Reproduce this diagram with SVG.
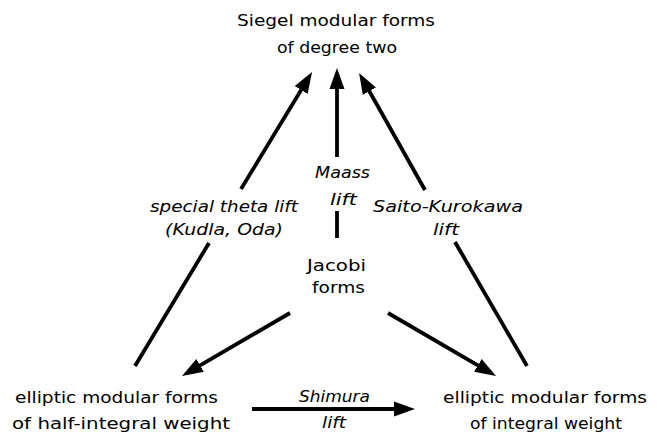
<svg xmlns="http://www.w3.org/2000/svg" width="657" height="435" viewBox="0 0 657 435">
<style>
text{font-family:"DejaVu Sans","Liberation Sans",sans-serif;font-size:15px;fill:#000}
.it{font-style:italic}
.ln{stroke:#000;stroke-width:3.8;fill:none}
</style>
<defs>
<marker id="ah" markerUnits="userSpaceOnUse" markerWidth="26" markerHeight="20" viewBox="0 -10 26 20" refX="2" refY="0" orient="auto">
<path d="M0,-7.5 L21,0 L0,7.5 Z" fill="#000"/>
</marker>
</defs>
<rect width="657" height="435" fill="#fff"/>
<g id="connectors">
<path class="ln" d="M135,366 L209,243"/>
<path class="ln" d="M241,189 L302.2,88.3" marker-end="url(#ah)"/>
<path class="ln" d="M337,238 L337,211"/>
<path class="ln" d="M337,157 L337,87" marker-end="url(#ah)"/>
<path class="ln" d="M527,366 L455,242"/>
<path class="ln" d="M425,190 L368.4,89.5" marker-end="url(#ah)"/>
<path class="ln" d="M290,313 L198.4,366.4" marker-end="url(#ah)"/>
<path class="ln" d="M388,313 L479.6,366.4" marker-end="url(#ah)"/>
<path class="ln" d="M252,409 L396,409" marker-end="url(#ah)"/>
</g>
<g id="siegel">
<text x="237" y="26" textLength="198" lengthAdjust="spacingAndGlyphs">Siegel modular forms</text>
<text x="277" y="53" textLength="120" lengthAdjust="spacingAndGlyphs">of degree two</text>
</g>
<g id="jacobi">
<text x="307" y="271" textLength="59" lengthAdjust="spacingAndGlyphs">Jacobi</text>
<text x="312" y="293" textLength="53" lengthAdjust="spacingAndGlyphs">forms</text>
</g>
<g id="half-integral">
<text x="15" y="403" textLength="203" lengthAdjust="spacingAndGlyphs">elliptic modular forms</text>
<text x="12" y="429" textLength="218" lengthAdjust="spacingAndGlyphs">of half-integral weight</text>
</g>
<g id="integral">
<text x="443" y="403" textLength="204" lengthAdjust="spacingAndGlyphs">elliptic modular forms</text>
<text x="470" y="429" textLength="152" lengthAdjust="spacingAndGlyphs">of integral weight</text>
</g>
<g id="labels">
<text class="it" x="315" y="178" textLength="55" lengthAdjust="spacingAndGlyphs">Maass</text>
<text class="it" x="330" y="205" textLength="27" lengthAdjust="spacingAndGlyphs">lift</text>
<text class="it" x="150" y="212" textLength="148" lengthAdjust="spacingAndGlyphs">special theta lift</text>
<text class="it" x="165" y="235" textLength="118" lengthAdjust="spacingAndGlyphs">(Kudla, Oda)</text>
<text class="it" x="373" y="212" textLength="150" lengthAdjust="spacingAndGlyphs">Saito-Kurokawa</text>
<text class="it" x="433" y="235" textLength="26" lengthAdjust="spacingAndGlyphs">lift</text>
<text class="it" x="299" y="402" textLength="71" lengthAdjust="spacingAndGlyphs">Shimura</text>
<text class="it" x="322" y="428" textLength="24" lengthAdjust="spacingAndGlyphs">lift</text>
</g>
</svg>
